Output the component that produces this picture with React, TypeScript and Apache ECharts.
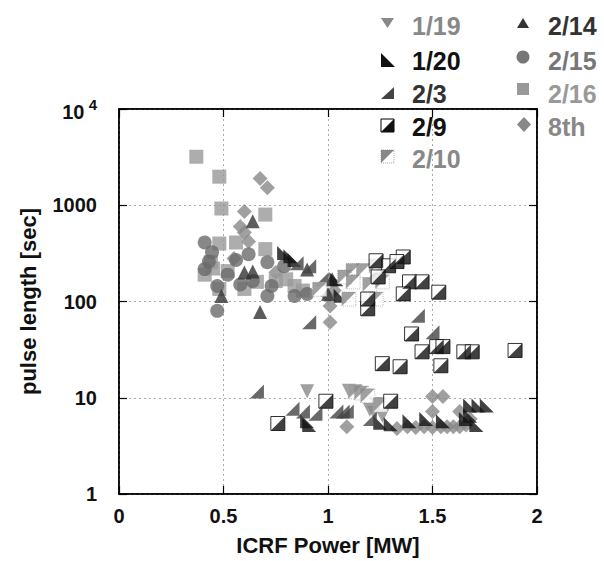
import React, { useEffect, useRef } from "react";
import * as echarts from "echarts";

// ---- data: [ICRF power (MW), pulse length (s)] ----
const s0119 = [[0.90, 11.7], [1.10, 11.8], [1.13, 11.7], [1.20, 7.5], [1.26, 6.5], [1.22, 7.0], [1.23, 8.6]];
const s0120 = [[0.79, 320], [0.82, 295], [0.84, 270], [1.04, 170], [1.06, 115], [0.91, 5.2], [0.90, 5.7], [1.30, 5.3], [1.39, 5.7], [1.47, 6.0], [1.55, 5.7], [1.66, 6.0], [1.68, 8.3], [1.72, 8.3], [1.76, 8.3], [1.68, 6.5], [1.71, 5.2], [1.25, 5.5]];
const s0203 = [[0.91, 233], [0.91, 61], [1.43, 71], [1.50, 48], [0.66, 11.6], [0.83, 7.7], [0.88, 7.2], [0.94, 6.8], [1.04, 7.2], [1.07, 7.2], [1.09, 7.2], [1.20, 6.0], [1.22, 200], [0.85, 250], [0.97, 170]];
const s0209 = [[1.36, 290], [1.23, 265], [1.29, 235], [1.33, 260], [1.39, 160], [1.45, 160], [1.36, 120], [1.53, 125], [1.19, 84], [1.24, 180], [1.19, 106], [1.40, 46], [1.45, 30], [1.52, 34], [1.55, 34], [1.65, 30], [1.69, 30], [1.895, 31], [1.26, 22.6], [1.345, 21], [1.54, 21.5], [0.99, 9.2], [1.30, 9.2], [0.76, 5.4]];
const s0210 = [[1.12, 210], [1.17, 210], [1.12, 160], [1.10, 106], [1.23, 106], [1.26, 160], [1.23, 235], [1.08, 180], [0.96, 134], [1.20, 150], [1.13, 11.5], [1.16, 11.2], [1.19, 10.5], [1.25, 8.4]];
const s0214 = [[0.64, 680], [0.60, 200], [0.64, 205], [0.49, 114], [0.675, 78], [0.90, 215], [1.02, 170], [1.00, 120]];
const s0215 = [[0.41, 410], [0.47, 80], [0.41, 217], [0.47, 145], [0.445, 324], [0.62, 310], [0.64, 163], [0.71, 256], [0.71, 114], [0.79, 233], [0.84, 114], [0.73, 145], [0.56, 270], [0.52, 190], [0.90, 120], [0.43, 260], [0.58, 150]];
const s0216 = [[0.37, 3190], [0.48, 1980], [0.49, 925], [0.70, 800], [0.48, 400], [0.56, 410], [0.70, 350], [0.44, 256], [0.52, 207], [0.41, 190], [0.75, 163], [0.84, 145], [0.48, 135], [0.60, 135], [0.80, 170], [0.88, 130], [0.45, 220], [0.66, 160]];
const s8th = [[0.675, 1900], [0.71, 1520], [0.60, 860], [0.60, 522], [0.58, 600], [0.62, 420], [0.55, 280], [0.75, 200], [1.01, 61], [1.01, 90], [1.00, 114], [1.03, 130], [1.09, 5.0], [1.33, 4.8], [1.38, 5.0], [1.42, 4.9], [1.46, 5.0], [1.50, 4.9], [1.54, 5.0], [1.57, 5.0], [1.60, 5.0], [1.63, 5.0], [1.66, 5.2], [1.68, 6.0], [1.50, 10.3], [1.55, 10.3], [1.50, 7.2], [1.63, 7.2]];

const xTicks = [0, 0.5, 1, 1.5, 2];
const yTicks = [1, 10, 100, 1000, 10000];

const FONT = '"Liberation Sans", Arial, sans-serif';

const P_DOWN = "path://M0,0L10,0L5,9Z";
const P_BL = "path://M0,0L0,10L10,10Z"; // ◣
const P_BR = "path://M10,0L10,10L0,10Z"; // ◢
const P_TL = "path://M0,0L10,0L0,10Z"; // ◤

export default function App() {
  const ref = useRef<HTMLDivElement>(null);
  useEffect(() => {
    const chart = echarts.init(ref.current!, null, { renderer: "svg" });
    const sc = (name: string, data: number[][], symbol: string, color: string, size: number, extra: any = {}) => ({
      type: "scatter",
      name,
      data,
      symbol,
      symbolSize: size,
      itemStyle: { color, ...(extra.itemStyle || {}) },
    });
    const axisTickStyle = { show: true, inside: true, length: 8, lineStyle: { color: "#000", width: 1.2 } };
    const lineStyle = { color: "#000", width: 1.5 };

    // legend graphic
    const legend: any[] = [];
    const tri = (pts: number[][], fill: string) => ({ type: "polygon", shape: { points: pts }, style: { fill } });
    const addText = (txt: string, x: number, y: number, fill: string) =>
      legend.push({ type: "text", x, y, style: { text: txt, fill, font: `bold 25px ${FONT}`, verticalAlign: "middle", align: "left" } });
    // col 1
    legend.push(tri([[381, 18], [394, 18], [387.5, 28]], "#888"));
    addText("1/19", 412, 26, "#888");
    legend.push(tri([[381, 53], [381, 67], [395, 67]], "#111"));
    addText("1/20", 412, 61, "#111");
    legend.push(tri([[394, 87], [394, 99], [381, 99]], "#444"));
    addText("2/3", 412, 94, "#333");
    legend.push({ type: "rect", shape: { x: 381, y: 119, width: 13, height: 13 }, style: { fill: "#fff", stroke: "#000", lineWidth: 1 } });
    legend.push(tri([[394, 119], [394, 132], [381, 132]], "#111"));
    addText("2/9", 412, 127, "#111");
    legend.push({ type: "rect", shape: { x: 381, y: 150, width: 13, height: 13 }, style: { fill: "#fff", stroke: "#aaa", lineWidth: 1, lineDash: [1, 1] } });
    legend.push(tri([[381, 150], [394, 150], [381, 163]], "#888"));
    addText("2/10", 412, 159, "#888");
    // col 2
    legend.push(tri([[517, 28], [529, 28], [523, 18]], "#333"));
    addText("2/14", 548, 26, "#333");
    legend.push({ type: "circle", shape: { cx: 523, cy: 57, r: 6.5 }, style: { fill: "#777" } });
    addText("2/15", 548, 61, "#777");
    legend.push({ type: "rect", shape: { x: 517, y: 83, width: 12, height: 12 }, style: { fill: "#999" } });
    addText("2/16", 548, 94, "#999");
    legend.push(tri([[524, 117], [531, 124.5], [524, 132], [517, 124.5]], "#888"));
    addText("8th", 548, 127, "#888");

    chart.setOption({
      animation: false,
      backgroundColor: "#fff",
      grid: { left: 119, right: 67, top: 109, bottom: 65, containLabel: false, show: true, borderColor: "#000", borderWidth: 1.5, backgroundColor: "transparent" },
      xAxis: [
        {
          type: "value",
          min: 0,
          max: 2,
          interval: 0.5,
          position: "bottom",
          name: "ICRF Power [MW]",
          nameLocation: "middle",
          nameGap: 40,
          nameTextStyle: { fontFamily: FONT, fontWeight: "bold", fontSize: 22, color: "#111" },
          axisLine: { show: true, onZero: false, lineStyle },
          axisTick: axisTickStyle,
          axisLabel: {
            margin: 12,
            fontFamily: FONT,
            fontWeight: "bold",
            fontSize: 20,
            color: "#111",
            formatter: (v: number) => (xTicks.includes(v) ? String(v) : ""),
          },
          splitLine: { show: true, lineStyle: { color: "#aaa", type: [2, 3], width: 1 } },
        },
        {
          type: "value",
          min: 0,
          max: 2,
          interval: 0.5,
          position: "top",
          axisLine: { show: true, onZero: false, lineStyle },
          axisTick: axisTickStyle,
          axisLabel: { show: false },
          splitLine: { show: false },
        },
      ],
      yAxis: [
        {
          type: "log",
          logBase: 10,
          min: 1,
          max: 10000,
          position: "left",
          name: "pulse length [sec]",
          nameLocation: "middle",
          nameGap: 80,
          nameTextStyle: { fontFamily: FONT, fontWeight: "bold", fontSize: 22, color: "#111" },
          axisLine: { show: true, onZero: false, lineStyle },
          axisTick: axisTickStyle,
          minorTick: { show: false },
          axisLabel: {
            margin: 22,
            fontFamily: FONT,
            fontWeight: "bold",
            fontSize: 20,
            color: "#111",
            formatter: (v: number) => {
              const r = Math.round(v);
              if (r === yTicks[4]) return "{a|10}{s| 4}";
              return String(r);
            },
            rich: {
              a: { fontFamily: FONT, fontWeight: "bold", fontSize: 20, color: "#111", verticalAlign: "bottom" },
              s: { fontFamily: FONT, fontWeight: "bold", fontSize: 15, color: "#111", verticalAlign: "top", padding: [0, 0, 10, 0] },
            },
          },
          splitLine: { show: true, lineStyle: { color: "#aaa", type: [2, 3], width: 1 } },
        },
        {
          type: "log",
          logBase: 10,
          min: 1,
          max: 10000,
          position: "right",
          axisLine: { show: true, onZero: false, lineStyle },
          axisTick: axisTickStyle,
          axisLabel: { show: false },
          splitLine: { show: false },
        },
      ],
      graphic: legend,
      series: [
        sc("8th", s8th, "diamond", "#888", 15),
        sc("2/16", s0216, "rect", "#999", 14),
        sc("2/15", s0215, "circle", "#6a6a6a", 14),
        sc("2/14", s0214, "triangle", "#333", 14),
        sc("1/19", s0119, P_DOWN, "#888", 14),
        sc("1/20", s0120, P_BL, "#111", 14),
        sc("2/3", s0203, P_BR, "#444", 14),
        sc("2/10", s0210, "rect", "#fff", 14, { itemStyle: { borderColor: "#aaa", borderWidth: 1, borderType: [1, 1] } }),
        sc("2/10", s0210, P_TL, "#888", 14),
        sc("2/9", s0209, "rect", "#fff", 14, { itemStyle: { borderColor: "#000", borderWidth: 1 } }),
        sc("2/9", s0209, P_BR, "#111", 14),
      ],
    });
    return () => chart.dispose();
  }, []);
  return <div ref={ref} style={{ position: "fixed", left: 0, top: 0, width: 604, height: 561, background: "#fff" }} />;
}
